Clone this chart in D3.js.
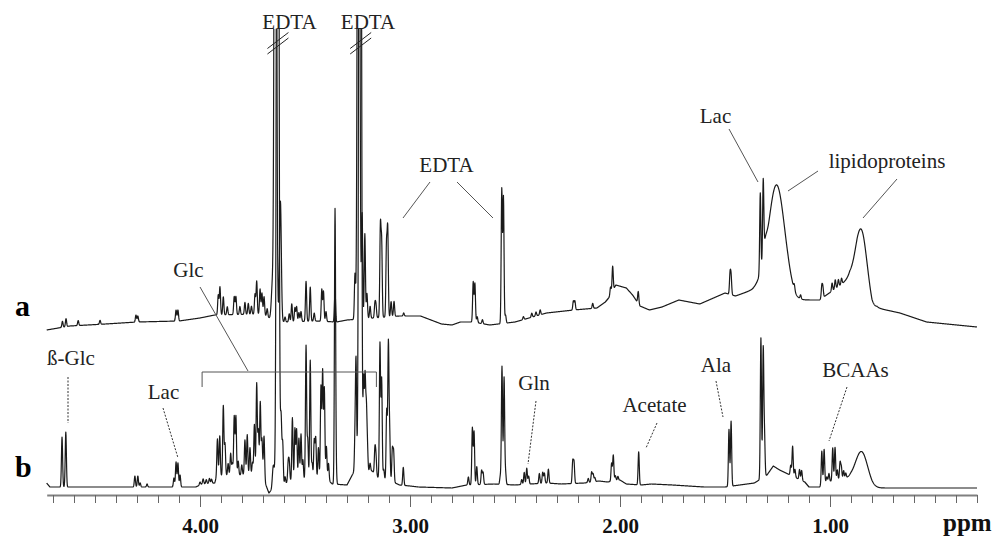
<!DOCTYPE html>
<html>
<head>
<meta charset="utf-8">
<script src="https://cdn.jsdelivr.net/npm/d3@7"></script>
<style>
  body { margin: 0; background: #fff; }
  text { font-family: "Liberation Serif", "Times New Roman", serif; }
</style>
</head>
<body>
<svg id="chart" width="1005" height="538"></svg>
<script>
// chemical shift axis (ppm), reversed as usual for NMR
var ppmRange = [4.73, 0.30];
var minorTicks = d3.range(47, 2, -1).map(function(d) { return d / 10; });
var majorTicks = [4, 3, 2, 1];

// spectrum a: slowly varying baseline [ppm, intensity]
var baseA = [[4.73,0],[4.62,4],[4.45,6],[4.30,8],[4.10,9],[4.00,12],[3.93,15],[3.70,16],[3.67,12],
  [3.60,8],[3.45,9],[3.35,8],[3.30,10],[3.05,14],[2.95,14],[2.85,6],[2.80,5],[2.76,8],[2.70,8],
  [2.62,5],[2.50,8],[2.35,17],[2.22,20],[2.11,22],[2.07,28],[2.05,33],[2.02,45],[1.97,42],[1.94,35],
  [1.905,24],[1.86,20],[1.80,23],[1.72,30],[1.62,26],[1.50,37],[1.45,34],[1.37,40],[1.34,44],
  [1.20,36],[1.16,30],[1.05,30],[0.95,45],[0.905,52],[0.87,45],[0.83,28],[0.80,18],[0.776,22],
  [0.667,17],[0.54,8],[0.30,3]];

// spectrum a: peaks [ppm, height, width(optional)]
var peaksA = [[4.655,6],[4.638,8],[4.58,5],[4.476,4],[4.305,7],[4.296,6],[4.114,11],[4.105,11],
  [3.913,20],[3.905,28],[3.889,18],[3.87,8],[3.837,18],[3.829,18],[3.81,8],[3.786,12],[3.77,11],
  [3.755,8],[3.738,20],[3.730,33],[3.714,25],[3.705,21],[3.695,18],[3.68,8],
  [3.655,35,0.012],[3.641,1000,0.011],[3.617,120,0.01],
  [3.595,5],[3.575,8],[3.563,18],[3.548,14],[3.540,15],[3.529,9],[3.519,10],[3.495,40],[3.475,34],
  [3.456,8],[3.420,32],[3.412,30],[3.40,10],[3.357,30],
  [3.262,45],[3.245,1000,0.011],[3.228,105],[3.215,85],[3.205,25],[3.19,12],[3.167,14],[3.162,12],
  [3.141,90],[3.135,73],[3.112,70],[3.106,86],[3.09,15],[3.076,15],[3.03,3],
  [2.699,40],[2.691,39],[2.68,6],[2.655,4],[2.563,134],[2.555,126],[2.545,8],
  [2.46,3],[2.42,4],[2.40,4],[2.38,5],[2.222,9],[2.215,9],[2.13,5],[2.045,8],[2.035,25],
  [1.913,12],[1.476,20],[1.471,18],[1.332,80],[1.318,75],[1.31,12,0.02],
  [1.254,106,0.09],[1.17,5],[1.14,4],
  [1.039,12],[1.034,10],[0.99,8],[0.975,9],[0.96,7],[0.945,6],
  [0.849,64,0.064]];

// spectrum b: baseline [ppm, intensity]
var baseB = [[4.73,4],[4.715,0],[4.02,0],[3.99,3],[3.93,4],[3.92,11],[3.70,13],[3.688,3],[3.672,-6],
  [3.66,-3],[3.645,8],[3.60,1],[3.58,6],[3.40,9],[3.37,3],[3.30,2],[3.27,14],[3.18,16],[3.15,9],
  [3.08,5],[3.05,2],[3.00,1],[2.96,0],[2.80,-1],[2.73,2],[2.60,3],[2.50,2],[2.35,4],[2.28,3],
  [2.17,4],[2.10,6],[2.06,5],[2.00,7],[1.97,3],[1.90,2],[1.85,3],[1.75,2],[1.60,0],[1.50,0],
  [1.36,4],[1.30,12],[1.27,21],[1.24,17],[1.20,13],[1.12,5],[1.10,0],[1.05,0],[1.02,5],[0.94,8],
  [0.90,8],[0.80,-1],[0.30,-1]];

// spectrum b: peaks [ppm, height, width(optional)]
var peaksB = [[4.657,50],[4.639,55],[4.31,11],[4.296,11],[4.285,4],[4.252,3],
  [4.124,9],[4.114,25],[4.105,24],[4.095,12],[4.00,3],[3.985,5],[3.97,4],[3.955,5],[3.945,4],
  [3.917,37],[3.906,40],[3.889,70],[3.881,32],[3.866,12],[3.854,22],[3.846,12],[3.837,59],[3.829,59],
  [3.818,14],[3.801,10],[3.786,35],[3.775,40],[3.762,27],[3.75,12],[3.741,50],[3.730,91],[3.722,44],
  [3.713,72],[3.705,35],[3.695,42],
  [3.651,18,0.01],[3.630,1400,0.011],[3.614,68,0.008],[3.606,40],
  [3.595,8],[3.58,18],[3.575,18],[3.560,63],[3.548,52],[3.540,51],[3.529,42],[3.519,46],[3.51,20],
  [3.495,134],[3.487,40],[3.475,119],[3.466,16],[3.456,39],[3.449,41],[3.436,31],[3.424,92],
  [3.416,107],[3.408,90],[3.398,32],[3.388,17],[3.357,273],[3.352,14],
  [3.262,32],[3.257,110],[3.238,1400,0.011],[3.230,90],[3.221,92],[3.214,92],[3.208,60],[3.203,25],
  [3.19,8],[3.167,25],[3.162,18],[3.143,135],[3.135,100],[3.125,10],[3.111,70],[3.103,136],
  [3.097,48],[3.084,32],[3.078,30],[3.032,18],
  [2.722,8],[2.703,57],[2.695,53],[2.682,18],[2.659,14],[2.652,12],
  [2.57,8],[2.562,118],[2.552,107],[2.545,12],
  [2.468,5],[2.456,12],[2.444,16],[2.435,8],[2.384,10],[2.368,11],[2.36,10],[2.341,14],
  [2.225,22],[2.219,21],[2.151,4],[2.135,10],[2.128,8],[2.12,4],
  [2.040,18],[2.032,26],[2.022,5],[2.01,4],[1.911,33],
  [1.481,57],[1.471,65],[1.329,141],[1.318,128],[1.312,40],
  [1.187,10],[1.178,30],[1.167,8],[1.145,10],[1.135,10],
  [1.039,34],[1.028,34],[1.015,5],[1.005,8],[0.987,33],[0.976,33],[0.965,10],[0.952,17],
  [0.946,12],[0.935,8],[0.925,5],[0.849,32,0.068]];

var svg = d3.select("#chart");

// scales
var x = d3.scaleLinear().domain(ppmRange).range([46.7, 977]);
var yA = d3.scaleLinear().domain([0, 100]).range([330, 230]);
var yB = d3.scaleLinear().domain([0, 100]).range([487, 387]);

// sample each spectrum on a fine ppm grid
var grid = d3.range(4.73, 0.2995, -0.001);
function spectrum(base, peaks) {
  var bl = d3.scaleLinear().domain(base.map(function(d) { return d[0]; }))
    .range(base.map(function(d) { return d[1]; }));
  return grid.map(function(p) {
    var v = bl(p);
    peaks.forEach(function(k) {
      var d = (p - k[0]) / (k[2] || 0.0065);
      if (Math.abs(d) < 6) v += k[1] * Math.exp(-2.7726 * d * d);
    });
    return [p, v];
  });
}

// clip the off-scale EDTA lines near the top
svg.append("clipPath").attr("id", "clip")
  .append("rect").attr("x", 0).attr("y", 29).attr("width", 1005).attr("height", 509);

var plot = svg.append("g").attr("clip-path", "url(#clip)");

[[baseB, peaksB, yB], [baseA, peaksA, yA]].forEach(function(s) {
  var line = d3.line()
    .x(function(d) { return x(d[0]); })
    .y(function(d) { return s[2](d[1]); });
  plot.append("path")
    .datum(spectrum(s[0], s[1]))
    .attr("d", line)
    .attr("fill", "none")
    .attr("stroke", "#1a1a1a")
    .attr("stroke-width", 1.2)
    .attr("stroke-linejoin", "round");
});

// break marks on the EDTA lines
[3.636, 3.242].forEach(function(p) {
  var cx = x(p);
  [0, -5.5].forEach(function(o) {
    svg.append("line")
      .attr("x1", cx - 9).attr("y1", 54 + o)
      .attr("x2", cx + 12).attr("y2", 38 + o)
      .attr("stroke", "#222").attr("stroke-width", 1);
  });
});

// x axis: minor ticks every 0.1 ppm
var axisMinor = svg.append("g")
  .attr("transform", "translate(0,495)")
  .call(d3.axisBottom(x).tickValues(minorTicks).tickSize(8).tickSizeOuter(0).tickFormat(""));
axisMinor.select(".domain").attr("stroke", "#808080").attr("stroke-width", 2);
axisMinor.selectAll(".tick line").attr("stroke", "#666");

// major ticks with bold labels
var axisMajor = svg.append("g")
  .attr("transform", "translate(0,495)")
  .call(d3.axisBottom(x).tickValues(majorTicks).tickSize(12).tickPadding(11)
    .tickFormat(d3.format(".2f")))
  .attr("font-family", "'Liberation Serif', serif")
  .attr("font-size", 21);
axisMajor.select(".domain").remove();
axisMajor.selectAll(".tick line").attr("stroke", "#666");
axisMajor.selectAll("text")
  .attr("fill", "#111")
  .style("font-weight", "bold");

svg.append("text").attr("x", 943).attr("y", 531)
  .style("font-size", "25px").style("font-weight", "bold").attr("fill", "#111")
  .text("ppm");

// trace labels
svg.append("text").attr("x", 15).attr("y", 316)
  .style("font-size", "30px").style("font-weight", "bold").text("a");
svg.append("text").attr("x", 15).attr("y", 477)
  .style("font-size", "30px").style("font-weight", "bold").text("b");

// peak assignments
var notes = [
  {t: "EDTA", x: 289.5, y: 29}, {t: "EDTA", x: 368, y: 29},
  {t: "EDTA", x: 446.5, y: 172}, {t: "Glc", x: 188.5, y: 277},
  {t: "Lac", x: 715.5, y: 123}, {t: "lipidoproteins", x: 887, y: 168},
  {t: "ß-Glc", x: 71, y: 365}, {t: "Lac", x: 163.5, y: 399},
  {t: "Gln", x: 534, y: 390}, {t: "Acetate", x: 654.5, y: 412},
  {t: "Ala", x: 716, y: 372}, {t: "BCAAs", x: 855.5, y: 377}
];
svg.selectAll(".note").data(notes).enter().append("text")
  .attr("class", "note")
  .attr("x", function(d) { return d.x; })
  .attr("y", function(d) { return d.y; })
  .attr("text-anchor", "middle")
  .attr("fill", "#222")
  .style("font-size", "21px")
  .text(function(d) { return d.t; });

// leader lines: solid for trace a, dotted for trace b
var leadersA = [[[430,182],[403,218]], [[457,182],[493,218]], [[729,129],[758,182]],
  [[818,171],[788,191]], [[897,179],[863,218]], [[200,287],[248,371]]];
var leadersB = [[[68,377],[68,423]], [[163,408],[178,458]], [[536,401],[528,464]],
  [[657,423],[646,448]], [[716,381],[723,417]], [[847,387],[829,441]]];
leadersA.forEach(function(l) {
  svg.append("line").attr("x1", l[0][0]).attr("y1", l[0][1]).attr("x2", l[1][0]).attr("y2", l[1][1])
    .attr("stroke", "#555").attr("stroke-width", 1);
});
leadersB.forEach(function(l) {
  svg.append("line").attr("x1", l[0][0]).attr("y1", l[0][1]).attr("x2", l[1][0]).attr("y2", l[1][1])
    .attr("stroke", "#333").attr("stroke-width", 1).attr("stroke-dasharray", "2,1.5");
});

// Glc bracket over the 3.16-3.99 ppm region
svg.append("path")
  .attr("d", "M" + x(3.99) + ",387V372H" + x(3.16) + "V387")
  .attr("fill", "none").attr("stroke", "#555").attr("stroke-width", 1);
</script>
</body>
</html>
